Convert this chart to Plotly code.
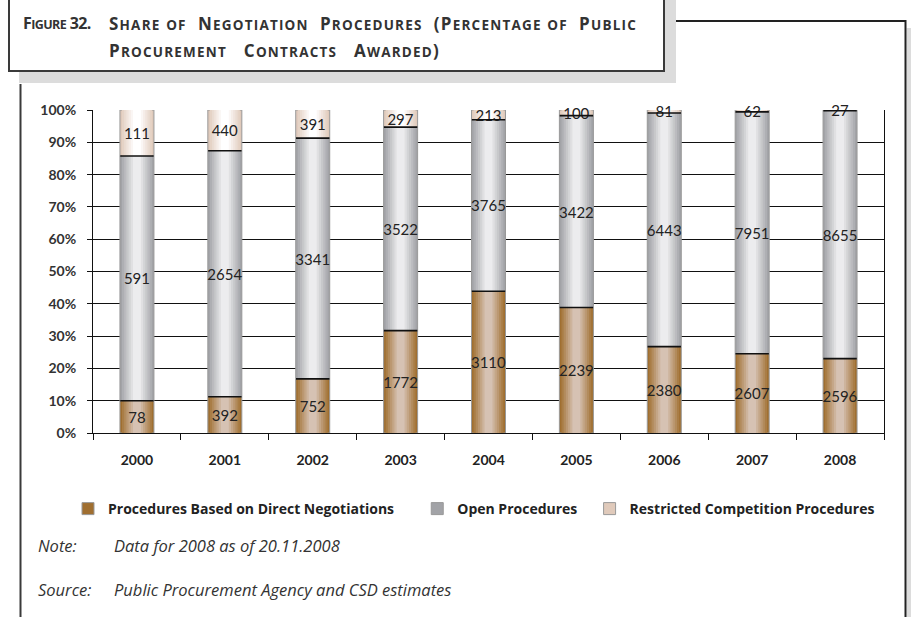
import numpy as np
import plotly.graph_objects as go

# ---------------- data ----------------
years = ["2000", "2001", "2002", "2003", "2004", "2005", "2006", "2007", "2008"]
direct = [78, 392, 752, 1772, 3110, 2239, 2380, 2607, 2596]
open_proc = [591, 2654, 3341, 3522, 3765, 3422, 6443, 7951, 8655]
restricted = [111, 440, 391, 297, 213, 100, 81, 62, 27]
series_names = ["Procedures Based on Direct Negotiations", "Open Procedures",
                "Restricted Competition Procedures"]
y_ticks = [0, 10, 20, 30, 40, 50, 60, 70, 80, 90, 100]

# ---------------- derived shares ----------------
vals = np.array([direct, open_proc, restricted], dtype=float)
tot = vals.sum(axis=0)
pct = vals / tot * 100
bases = np.vstack([np.zeros(len(years)), np.cumsum(pct, axis=0)[:-1]])

FONT = "Lato"
FONT2 = "Open Sans"
W, H = 911, 617
L, R, T, B = 93, 27, 110, 184
PW, PH = W - L - R, H - T - B


def px(x):
    return (x - L) / PW


def py(y):
    return (H - B - y) / PH


def hex2rgb(h):
    h = h.lstrip("#")
    return np.array([int(h[i:i + 2], 16) for i in (0, 2, 4)], dtype=float)


def mix(a, b, t):
    c = hex2rgb(a) * (1 - t) + hex2rgb(b) * t
    return "rgb(%d,%d,%d)" % tuple(np.round(c).astype(int))


# gradient endpoints (edge, centre) per series
grads = [("#a06f30", "#d6c2b3"), ("#a2a3a7", "#ececee"), ("#e0cabb", "#ffffff")]
widths = [0.387, 0.34, 0.29, 0.24, 0.19, 0.14, 0.09]

fig = go.Figure()
nl = len(widths)
# legend padding (non-breaking spaces) to reproduce the reference spacing
pads = [5, 2, 0]
for li, w in enumerate(widths):
    t = li / (nl - 1)
    for si in range(3):
        fig.add_trace(go.Bar(
            x=years, y=pct[si], base=bases[si], width=w,
            marker=dict(color=mix(grads[si][0], grads[si][1], t),
                        line=dict(color="#999999", width=1 if li == 0 else 0)),
            name=series_names[si] + "\u00a0" * pads[si], showlegend=(li == 0),
            legendgroup=str(si), hoverinfo="skip",
        ))

# transparent text layer with the counts
raw = [direct, open_proc, restricted]
for si in range(3):
    fig.add_trace(go.Bar(
        x=years, y=pct[si], base=bases[si], width=0.387,
        marker=dict(color="rgba(0,0,0,0)", line=dict(width=0)),
        text=[str(v) for v in raw[si]], textposition="inside", textangle=0,
        insidetextanchor="middle", cliponaxis=False,
        textfont=dict(family=FONT, size=15, color="#222"),
        showlegend=False, hoverinfo="skip", legendgroup=str(si),
    ))

# black boundary lines between segments
for i in range(len(years)):
    for si in range(2):
        yb = bases[si][i] + pct[si][i]
        fig.add_shape(type="line", xref="x", yref="y",
                      x0=i - 0.19, x1=i + 0.19, y0=yb, y1=yb,
                      line=dict(color="#111", width=1.6))


def smallcaps(s, small=13.5):
    out = []
    for ch in s:
        if ch.isalpha() and ch.islower():
            out.append('<span style="font-size:%spx">%s</span>' % (small, ch.upper()))
        else:
            out.append(ch)
    return "".join(out)


# ---------------- frame decorations ----------------
shapes = [
    dict(type="rect", xref="paper", yref="paper", x0=px(19), x1=px(676), y0=py(83), y1=py(-10),
         fillcolor="#dcdcdc", line=dict(width=0), layer="below"),
    dict(type="rect", xref="paper", yref="paper", x0=px(9), x1=px(664), y0=py(71), y1=py(-10),
         fillcolor="white", line=dict(color="#3a3a3a", width=2), layer="below"),
    dict(type="line", xref="paper", yref="paper", x0=px(20.5), x1=px(20.5), y0=py(84), y1=py(630),
         line=dict(color="#3a3a3a", width=2)),
    dict(type="line", xref="paper", yref="paper", x0=px(676), x1=px(906), y0=py(21), y1=py(21),
         line=dict(color="#222", width=2)),
    dict(type="rect", xref="paper", yref="paper", x0=px(906.5), x1=px(912), y0=py(630), y1=py(28),
         fillcolor="#dcdcdc", line=dict(width=0), layer="below"),
    dict(type="line", xref="paper", yref="paper", x0=px(905.5), x1=px(905.5), y0=py(20), y1=py(630),
         line=dict(color="#222", width=2)),
]
for s in shapes:
    fig.add_shape(**s)

tcol = "#333"
ann = [
    dict(text='<b><span style="letter-spacing:-0.6px">' + smallcaps("Figure 32.", small=12.5)
         + '</span></b>', x=px(21), y=py(23), size=16),
    dict(text='<b><span style="letter-spacing:1.2px">' +
         smallcaps("Share of  Negotiation  Procedures  (Percentage of  Public") + '</span></b>',
         x=px(107), y=py(23), size=17),
    dict(text='<b><span style="letter-spacing:1.2px">' +
         smallcaps("Procurement   Contracts   Awarded)") + '</span></b>',
         x=px(107), y=py(50), size=17),
]
for a in ann:
    sz = a.pop("size")
    a.update(xref="paper", yref="paper", xanchor="left", yanchor="middle", showarrow=False,
             font=dict(family=FONT2, size=sz, color=tcol))
    fig.add_annotation(**a)

notes = [("Note:", 36, 545), ("Data for 2008 as of 20.11.2008", 112, 545),
         ("Source:", 36, 589), ("Public Procurement Agency and CSD estimates", 112, 589)]
for txt, x, y in notes:
    fig.add_annotation(text="<i>%s</i>" % txt, x=px(x), y=py(y), xref="paper", yref="paper",
                       xanchor="left", yanchor="middle", showarrow=False,
                       font=dict(family=FONT2, size=16.5, color="#333"))

fig.update_layout(
    width=W, height=H,
    margin=dict(l=L, r=R, t=T, b=B, pad=0),
    paper_bgcolor="white", plot_bgcolor="white",
    barmode="overlay",
    uniformtext=dict(minsize=15, mode="show"),
    showlegend=True,
    legend=dict(orientation="h", x=px(68), y=py(509), xanchor="left", yanchor="middle",
                font=dict(family=FONT2, size=14, color="#222", weight="bold"),
                itemwidth=30, tracegroupgap=0, bgcolor="rgba(0,0,0,0)"),
    font=dict(family=FONT),
)
fig.update_xaxes(type="category", categoryorder="array", categoryarray=years,
                 range=[-0.5, len(years) - 0.5],
                 showline=True, linecolor="#111", linewidth=1,
                 ticks="outside", tickson="boundaries", ticklen=6, tickcolor="#111",
                 showgrid=False, ticklabelstandoff=14,
                 tickfont=dict(family=FONT, size=14, color="#222", weight="bold"))
fig.update_yaxes(range=[0, 100], tickvals=y_ticks, ticktext=["%d%%" % v for v in y_ticks],
                 showline=True, linecolor="#111", linewidth=1, mirror=True,
                 ticks="outside", ticklen=5, tickcolor="#111",
                 showgrid=True, gridcolor="#111", gridwidth=1, zeroline=False,
                 ticklabelstandoff=8,
                 tickfont=dict(family=FONT, size=14, color="#333", weight="bold"))

fig.write_html("out.html", config={"displayModeBar": False},
               post_script="document.body.style.margin='0';")
